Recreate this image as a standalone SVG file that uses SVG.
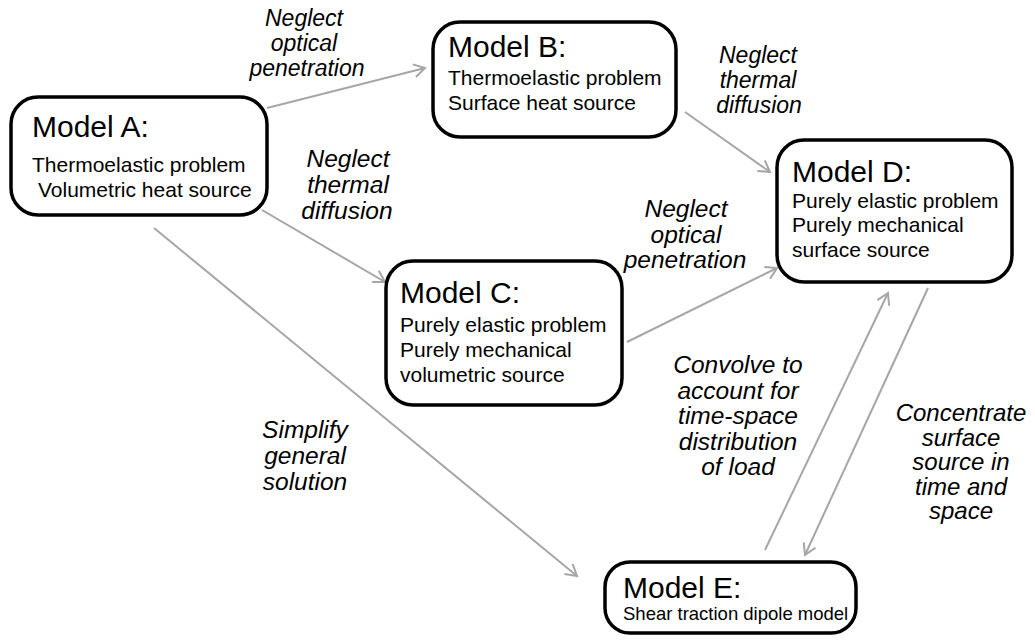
<svg xmlns="http://www.w3.org/2000/svg" width="1035" height="640" viewBox="0 0 1035 640">
<style>
.box{fill:#fff;stroke:#000;stroke-width:3.5}
.title{font-family:"Liberation Sans",Arial,sans-serif;font-size:30px;fill:#000}
.body{font-family:"Liberation Sans",Arial,sans-serif;font-size:21px;fill:#000}
.lbl{font-family:"Liberation Sans",Arial,sans-serif;font-size:24.5px;font-style:italic;fill:#000;text-anchor:middle}
.sm{font-size:23px}
.md{font-size:24px}
.conn{stroke:#a6a6a6;stroke-width:2;fill:none;marker-end:url(#arr)}
</style>
<defs>
<marker id="arr" markerUnits="userSpaceOnUse" markerWidth="16" markerHeight="16" viewBox="0 0 16 16" refX="13" refY="8" orient="auto">
<path d="M2,1.5 L13,8 L2,14.5" fill="none" stroke="#a6a6a6" stroke-width="2"/>
</marker>
</defs>
<rect width="1035" height="640" fill="#fff"/>
<g id="connectors">
<line class="conn" x1="267" y1="108" x2="425" y2="68"/>
<line class="conn" x1="262" y1="210" x2="385" y2="282"/>
<line class="conn" x1="685" y1="112" x2="770" y2="172"/>
<line class="conn" x1="627" y1="342" x2="777" y2="268"/>
<line class="conn" x1="154" y1="228" x2="577" y2="576"/>
<line class="conn" x1="765" y1="550" x2="888" y2="293"/>
<line class="conn" x1="928" y1="288" x2="805" y2="555"/>
</g>
<g id="labels">
<text class="lbl sm"><tspan x="304" y="26">Neglect</tspan><tspan x="304" y="51">optical</tspan><tspan x="307" y="76">penetration</tspan></text>
<text class="lbl"><tspan x="348" y="167">Neglect</tspan><tspan x="348" y="193">thermal</tspan><tspan x="347" y="219">diffusion</tspan></text>
<text class="lbl sm"><tspan x="758" y="63">Neglect</tspan><tspan x="758" y="88">thermal</tspan><tspan x="759" y="113">diffusion</tspan></text>
<text class="lbl"><tspan x="686" y="217">Neglect</tspan><tspan x="686" y="243">optical</tspan><tspan x="685" y="268">penetration</tspan></text>
<text class="lbl"><tspan x="305" y="438">Simplify</tspan><tspan x="305" y="464">general</tspan><tspan x="305" y="490">solution</tspan></text>
<text class="lbl"><tspan x="738" y="373">Convolve to</tspan><tspan x="738" y="398.5">account for</tspan><tspan x="738" y="424">time-space</tspan><tspan x="738" y="449.5">distribution</tspan><tspan x="738" y="475">of load</tspan></text>
<text class="lbl md"><tspan x="961" y="421">Concentrate</tspan><tspan x="961" y="445.5">surface</tspan><tspan x="961" y="470">source in</tspan><tspan x="961" y="494.5">time and</tspan><tspan x="961" y="519">space</tspan></text>
</g>
<g id="modelA">
<rect class="box" x="11" y="97" width="256" height="118" rx="27"/>
<text class="title" x="32" y="137">Model A:</text>
<text class="body" x="32" y="172">Thermoelastic problem</text>
<text class="body" x="38" y="197">Volumetric heat source</text>
</g>
<g id="modelB">
<rect class="box" x="433" y="22" width="243" height="115" rx="27"/>
<text class="title" x="448" y="57">Model B:</text>
<text class="body" x="448" y="85">Thermoelastic problem</text>
<text class="body" x="448" y="110">Surface heat source</text>
</g>
<g id="modelC">
<rect class="box" x="386" y="261" width="236" height="144" rx="27"/>
<text class="title" x="400" y="303">Model C:</text>
<text class="body" x="400" y="332">Purely elastic problem</text>
<text class="body" x="400" y="357">Purely mechanical</text>
<text class="body" x="400" y="382">volumetric source</text>
</g>
<g id="modelD">
<rect class="box" x="777" y="140" width="235" height="142" rx="27"/>
<text class="title" x="792" y="182">Model D:</text>
<text class="body" x="792" y="208">Purely elastic problem</text>
<text class="body" x="792" y="232">Purely mechanical</text>
<text class="body" x="792" y="257">surface source</text>
</g>
<g id="modelE">
<rect class="box" x="605" y="562" width="251" height="71" rx="25"/>
<text class="title" x="623" y="598">Model E:</text>
<text class="body" x="623" y="620" style="font-size:18.5px">Shear traction dipole model</text>
</g>
</svg>
